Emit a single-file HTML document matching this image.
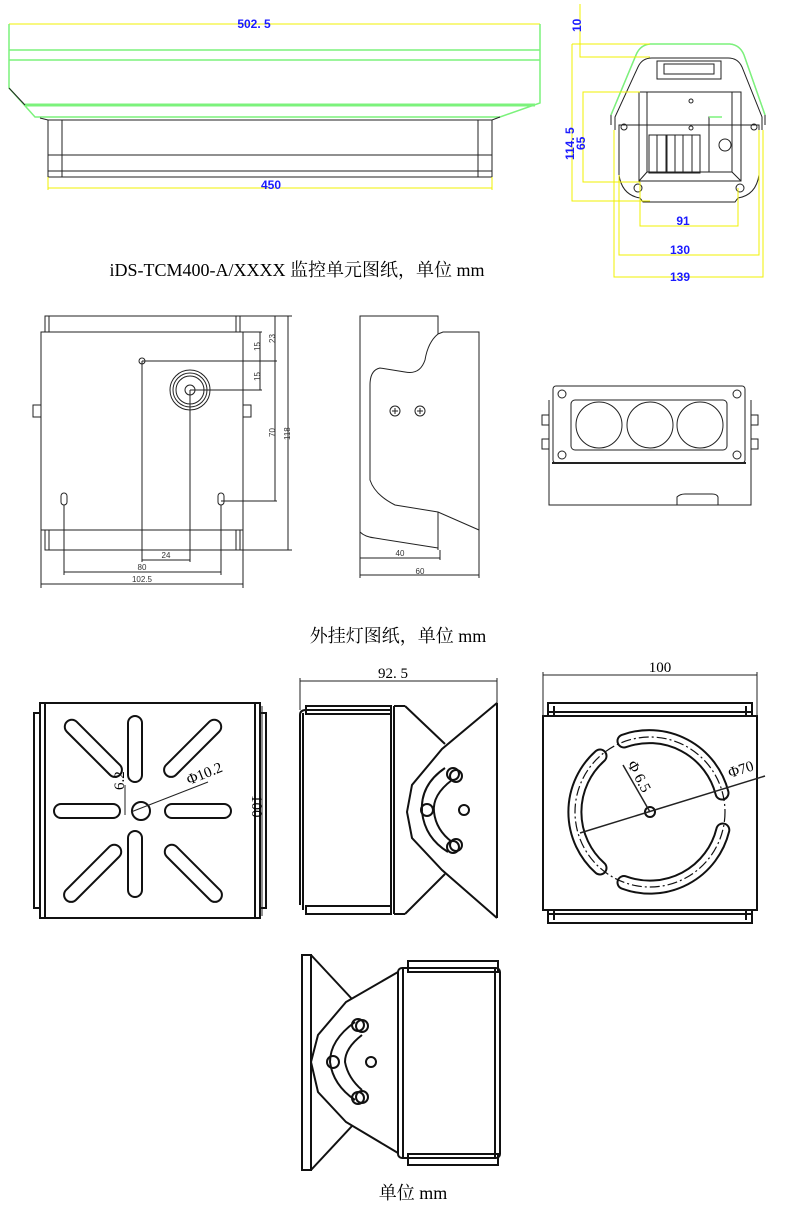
<!DOCTYPE html>
<html><head><meta charset="utf-8"><style>
html,body{margin:0;padding:0;background:#fff;width:790px;height:1225px;overflow:hidden}
svg{display:block}
.cap{font-family:"Liberation Serif","Noto Serif CJK SC",serif;font-size:18px;fill:#000}
.b{fill:none;stroke:#222;stroke-width:1}
.t{fill:none;stroke:#111;stroke-width:2}
.g{fill:none;stroke:#7CF27C;stroke-width:1.5}
.y{fill:none;stroke:#F0F000;stroke-width:1}
.bl{font-family:"Liberation Sans",sans-serif;font-size:12px;fill:#1a1aff;font-weight:bold}
.sm{font-family:"Liberation Sans",sans-serif;font-size:8px;fill:#333}
.md{font-family:"Liberation Serif",serif;font-size:15px;fill:#000}
</style></head><body>
<svg width="790" height="1225" viewBox="0 0 790 1225" xmlns="http://www.w3.org/2000/svg">
<!-- top housing side view -->
<line class="y" x1="9" y1="24" x2="540" y2="24"/>
<line class="y" x1="9" y1="24" x2="9" y2="88"/><line class="y" x1="540" y1="24" x2="540" y2="100"/>
<line class="g" x1="9" y1="50" x2="540" y2="50"/><line class="g" x1="9" y1="60" x2="540" y2="60"/>
<polyline class="g" points="9,24 9,88 35,117 500,117 540,103 540,24"/>
<line x1="25" y1="105" x2="535" y2="105" stroke="#7CF27C" stroke-width="3"/>
<line class="b" x1="9" y1="88" x2="25" y2="105"/>
<polyline class="b" points="40,118 48,120 492,120 500,117"/>
<rect class="b" x="48" y="120" width="444" height="57"/>
<line class="b" x1="62" y1="120" x2="62" y2="177"/><line class="b" x1="478" y1="120" x2="478" y2="177"/>
<line class="b" x1="48" y1="155" x2="492" y2="155"/><line class="b" x1="48" y1="171" x2="492" y2="171"/>
<line class="y" x1="48" y1="188" x2="492" y2="188"/><line class="y" x1="48" y1="177" x2="48" y2="190"/><line class="y" x1="492" y1="177" x2="492" y2="190"/>
<text class="bl" x="254" y="28" text-anchor="middle">502. 5</text>
<text class="bl" x="271" y="189" text-anchor="middle">450</text>
<text class="cap" x="297" y="276" text-anchor="middle">iDS-TCM400-A/XXXX 监控单元图纸，单位 mm</text>

<!-- housing front view -->
<path class="b" d="M611,125 L611,115 L636,55 Q640,45 650,44 L730,44 Q740,45 744,55 L765,115 L765,125"/>
<path class="g" d="M611,115 L636,55 Q640,45 650,44 L730,44 Q740,45 744,55 L765,115"/>
<path class="b" d="M615,130 L615,117 L638,67 Q642,58 652,58 L728,58 Q738,58 742,67 L762,117 L762,130"/>
<rect class="b" x="657" y="61" width="64" height="18"/><rect class="b" x="664" y="64" width="50" height="10"/>
<path class="b" d="M619,125 L619,175 Q622,195 640,198 L643,202 L735,202 L738,198 Q756,195 759,175 L759,125 Z"/>
<rect class="b" x="639" y="92" width="102" height="89"/>
<polyline class="b" points="647,92 647,172 639,181"/><polyline class="b" points="732,92 732,172 741,181"/>
<line class="b" x1="647" y1="172" x2="732" y2="172"/>
<rect class="b" x="649" y="135" width="8" height="38"/><rect class="b" x="657" y="135" width="9" height="38"/><rect class="b" x="667" y="135" width="8" height="38"/><rect class="b" x="675" y="135" width="8" height="38"/><rect class="b" x="683" y="135" width="9" height="38"/><rect class="b" x="692" y="135" width="8" height="38"/>
<polyline class="b" points="709,172 709,117 722,117"/><line class="g" x1="709" y1="117" x2="722" y2="117"/>
<circle class="b" cx="725" cy="145" r="6"/><circle class="b" cx="691" cy="101" r="2"/><circle class="b" cx="691" cy="128" r="2"/>
<circle class="b" cx="624" cy="127" r="3"/><circle class="b" cx="754" cy="127" r="3"/>
<circle class="b" cx="638" cy="188" r="4"/><circle class="b" cx="740" cy="188" r="4"/>
<polyline class="y" points="580,4 580,57 650,57"/><polyline class="y" points="572,44 650,44"/>
<polyline class="y" points="650,201 572,201 572,44"/>
<polyline class="y" points="640,92 583,92 583,182 640,182"/>
<polyline class="y" points="640,182 640,226 738,226 738,188"/>
<polyline class="y" points="619,175 619,255 759,255 759,130"/>
<polyline class="y" points="614,130 614,277 763,277 763,130"/>
<text class="bl" transform="translate(581,32) rotate(-90)">10</text>
<text class="bl" transform="translate(574,160) rotate(-90)">114. 5</text>
<text class="bl" transform="translate(585,150) rotate(-90)">65</text>
<text class="bl" x="683" y="225" text-anchor="middle">91</text>
<text class="bl" x="680" y="254" text-anchor="middle">130</text>
<text class="bl" x="680" y="281" text-anchor="middle">139</text>

<!-- lamp back view -->
<rect class="b" x="45" y="316" width="195" height="16"/><line class="b" x1="49" y1="316" x2="49" y2="332"/><line class="b" x1="236" y1="316" x2="236" y2="332"/>
<rect class="b" x="41" y="332" width="202" height="198"/>
<rect class="b" x="45" y="530" width="195" height="20"/><line class="b" x1="49" y1="530" x2="49" y2="550"/><line class="b" x1="236" y1="530" x2="236" y2="550"/>
<rect class="b" x="33" y="405" width="8" height="12"/><rect class="b" x="243" y="405" width="8" height="12"/>
<circle class="b" cx="142" cy="361" r="3"/>
<circle class="b" cx="190" cy="390" r="20"/><circle class="b" cx="190" cy="390" r="17"/><circle class="b" cx="190" cy="390" r="14"/><circle class="b" cx="190" cy="390" r="5"/>
<rect class="b" x="61" y="493" width="6" height="12" rx="3"/><rect class="b" x="218" y="493" width="6" height="12" rx="3"/>
<g class="b">
<line x1="142" y1="361" x2="142" y2="562"/><line x1="190" y1="390" x2="190" y2="562"/>
<line x1="64" y1="505" x2="64" y2="575"/><line x1="221" y1="505" x2="221" y2="575"/>
<line x1="142" y1="560" x2="190" y2="560"/><line x1="64" y1="572" x2="221" y2="572"/>
<line x1="41" y1="530" x2="41" y2="588"/><line x1="243" y1="332" x2="243" y2="588"/><line x1="41" y1="584" x2="243" y2="584"/>
<line x1="142" y1="361" x2="277" y2="361"/><line x1="190" y1="390" x2="262" y2="390"/><line x1="221" y1="501" x2="277" y2="501"/>
<line x1="260" y1="332" x2="260" y2="390"/><line x1="275" y1="316" x2="275" y2="501"/>
<line x1="243" y1="332" x2="262" y2="332"/><line x1="240" y1="316" x2="292" y2="316"/><line x1="240" y1="550" x2="292" y2="550"/>
<line x1="288" y1="316" x2="288" y2="550"/>
</g>
<text class="sm" x="166" y="558" text-anchor="middle">24</text>
<text class="sm" x="142" y="570" text-anchor="middle">80</text>
<text class="sm" x="142" y="582" text-anchor="middle">102.5</text>
<text class="sm" transform="translate(275,343) rotate(-90)">23</text>
<text class="sm" transform="translate(260,351) rotate(-90)">15</text>
<text class="sm" transform="translate(260,381) rotate(-90)">15</text>
<text class="sm" transform="translate(275,437) rotate(-90)">70</text>
<text class="sm" transform="translate(290,440) rotate(-90)">118</text>

<!-- lamp side view -->
<g class="b">
<polyline points="360,550 360,316 438,316 438,334"/>
<line x1="438" y1="512" x2="438" y2="550"/>
<polyline points="438,334 443,332 479,332 479,530"/>
<path d="M438,334 Q428,342 425,360 Q420,375 405,372 L380,368 Q370,370 370,385 L370,480 Q375,495 395,505 L438,512 L479,530"/>
<path d="M360,532 Q365,537 375,538 L438,548"/>
<circle cx="395" cy="411" r="5"/><circle cx="420" cy="411" r="5"/>
<line x1="392" y1="411" x2="398" y2="411"/><line x1="395" y1="408" x2="395" y2="414"/>
<line x1="417" y1="411" x2="423" y2="411"/><line x1="420" y1="408" x2="420" y2="414"/>
<line x1="360" y1="558" x2="440" y2="558"/><line x1="360" y1="575" x2="479" y2="575"/>
<line x1="360" y1="550" x2="360" y2="578"/><line x1="440" y1="550" x2="440" y2="560"/><line x1="479" y1="530" x2="479" y2="578"/>
</g>
<text class="sm" x="400" y="556" text-anchor="middle">40</text>
<text class="sm" x="420" y="574" text-anchor="middle">60</text>

<!-- lamp front -->
<g class="b">
<rect x="553" y="386" width="192" height="77" rx="3"/>
<rect x="571" y="400" width="156" height="50" rx="4"/>
<circle cx="599" cy="425" r="23"/><circle cx="650" cy="425" r="23"/><circle cx="700" cy="425" r="23"/>
<circle cx="562" cy="394" r="4"/><circle cx="737" cy="394" r="4"/><circle cx="562" cy="455" r="4"/><circle cx="737" cy="455" r="4"/>
<polyline points="549,463 549,505 751,505 751,463"/>
<line x1="549" y1="400" x2="549" y2="463"/><line x1="751" y1="400" x2="751" y2="463"/>
<rect x="542" y="415" width="7" height="10"/><rect x="542" y="439" width="7" height="10"/>
<rect x="751" y="415" width="7" height="10"/><rect x="751" y="439" width="7" height="10"/>
<path d="M677,505 L677,497 Q680,494 685,494 L712,494 Q717,494 718,497 L718,505"/>
</g>
<rect x="552" y="462" width="194" height="2" fill="#222"/>
<text class="cap" x="398" y="642" text-anchor="middle">外挂灯图纸，单位 mm</text>

<!-- bracket plate -->
<g class="t">
<rect x="40" y="703" width="220" height="215"/>
<line x1="45" y1="703" x2="45" y2="918"/><line x1="255" y1="703" x2="255" y2="918"/>
<rect x="34" y="713" width="6" height="195"/><rect x="260" y="713" width="6" height="195"/>
<rect x="128" y="716" width="14" height="66" rx="7"/>
<rect x="128" y="831" width="14" height="66" rx="7"/>
<rect x="54" y="804" width="66" height="14" rx="7"/>
<rect x="165" y="804" width="66" height="14" rx="7"/>
<rect x="86" y="711" width="14" height="75" rx="7" transform="rotate(-45 93 748)"/>
<rect x="186" y="711" width="14" height="75" rx="7" transform="rotate(45 193 748)"/>
<rect x="86" y="836" width="14" height="75" rx="7" transform="rotate(45 93 873)"/>
<rect x="186" y="836" width="14" height="75" rx="7" transform="rotate(-45 193 873)"/>
<circle cx="141" cy="811" r="9"/>
</g>
<g class="b">
<line x1="125" y1="785" x2="125" y2="815"/><line x1="131" y1="812" x2="208" y2="782"/>
<line x1="262" y1="706" x2="262" y2="916"/>
</g>
<text class="md" transform="translate(124,790) rotate(-90)">6.2</text>
<text class="md" transform="translate(189,785) rotate(-22)">Φ10.2</text>
<text class="md" transform="translate(252,795) rotate(90)">100</text>

<!-- side bracket -->
<g class="t">
<path d="M300,905 L300,715 Q300,710 306,710 L391,710"/>
<rect x="306" y="706" width="85" height="8"/><rect x="306" y="906" width="85" height="8"/>
<line x1="303" y1="713" x2="303" y2="910"/>
<line x1="394" y1="706" x2="394" y2="914"/><line x1="391" y1="706" x2="391" y2="914"/>
<line x1="394" y1="706" x2="405" y2="706"/><line x1="394" y1="914" x2="405" y2="914"/>
<polyline points="405,706 445,744"/><polyline points="405,914 445,874"/>
<polyline points="497,703 497,918"/>
<polyline points="497,703 442,749 412,785 407,812 412,838 442,870 497,918"/>
<path d="M445,768 Q420,785 422,812 Q425,838 448,852" />
<path d="M452,780 Q432,795 434,812 Q436,830 452,842"/>
<circle cx="453" cy="774" r="6"/><circle cx="456" cy="776" r="6"/>
<circle cx="427" cy="810" r="6"/><circle cx="464" cy="810" r="5"/>
<circle cx="453" cy="847" r="6"/><circle cx="456" cy="845" r="6"/>
</g>
<g class="b"><line x1="300" y1="681" x2="497" y2="681"/><line x1="300" y1="678" x2="300" y2="710"/><line x1="497" y1="678" x2="497" y2="703"/></g>
<text class="md" x="393" y="678" text-anchor="middle">92. 5</text>

<!-- right circle view -->
<g class="t">
<rect x="543" y="716" width="214" height="194"/>
<rect x="548" y="703" width="204" height="13"/><rect x="548" y="910" width="204" height="13"/>
<line x1="554" y1="706" x2="554" y2="716"/><line x1="746" y1="706" x2="746" y2="716"/>
<line x1="554" y1="910" x2="554" y2="920"/><line x1="746" y1="910" x2="746" y2="920"/>
<line x1="548" y1="712" x2="752" y2="712"/><line x1="548" y1="914" x2="752" y2="914"/>
<circle cx="650" cy="812" r="5"/>
</g>
<g fill="none" stroke-linecap="round">
<path d="M624,741 A75,75 0 0 1 722,793 M600,868 A75,75 0 0 1 600,756 M722.8,830 A75,75 0 0 1 624,882.5" stroke="#111" stroke-width="15"/>
<path d="M624,741 A75,75 0 0 1 722,793 M600,868 A75,75 0 0 1 600,756 M722.8,830 A75,75 0 0 1 624,882.5" stroke="#fff" stroke-width="11"/>
</g>
<circle cx="650" cy="812" r="75" fill="none" stroke="#111" stroke-width="1.2" stroke-dasharray="10 3 2 3"/>
<g class="b"><line x1="580" y1="833" x2="765" y2="776" stroke-width="1.5"/><line x1="623" y1="765" x2="650" y2="812" stroke-width="1.5"/>
<line x1="543" y1="675" x2="757" y2="675"/><line x1="543" y1="672" x2="543" y2="716"/><line x1="757" y1="672" x2="757" y2="716"/></g>
<text class="md" x="660" y="672" text-anchor="middle">100</text>
<text class="md" transform="translate(627,764) rotate(62)">Φ 6.5</text>
<text class="md" transform="translate(730,778) rotate(-18)">Φ70</text>

<!-- bottom view -->
<g class="t">
<rect x="302" y="955" width="9" height="215"/>
<line x1="311" y1="955" x2="352" y2="999"/><line x1="311" y1="1170" x2="352" y2="1126"/>
<polyline points="398,972 346,1002 318,1035 311,1062 318,1092 346,1122 398,1153"/>
<path d="M355,1022 Q330,1040 330,1062 Q333,1085 355,1100"/>
<path d="M362,1035 Q345,1048 345,1062 Q348,1078 362,1090"/>
<circle cx="358" cy="1025" r="6"/><circle cx="362" cy="1026" r="6"/>
<circle cx="333" cy="1062" r="6"/><circle cx="371" cy="1062" r="5"/>
<circle cx="358" cy="1098" r="6"/><circle cx="362" cy="1097" r="6"/>
<rect x="398" y="968" width="102" height="190" rx="4"/>
<line x1="403" y1="968" x2="403" y2="1158"/><line x1="495" y1="968" x2="495" y2="1158"/>
<rect x="408" y="961" width="90" height="11"/><rect x="408" y="1154" width="90" height="11"/>
</g>
<text class="cap" x="413" y="1199" text-anchor="middle">单位 mm</text>
</svg>
</body></html>
